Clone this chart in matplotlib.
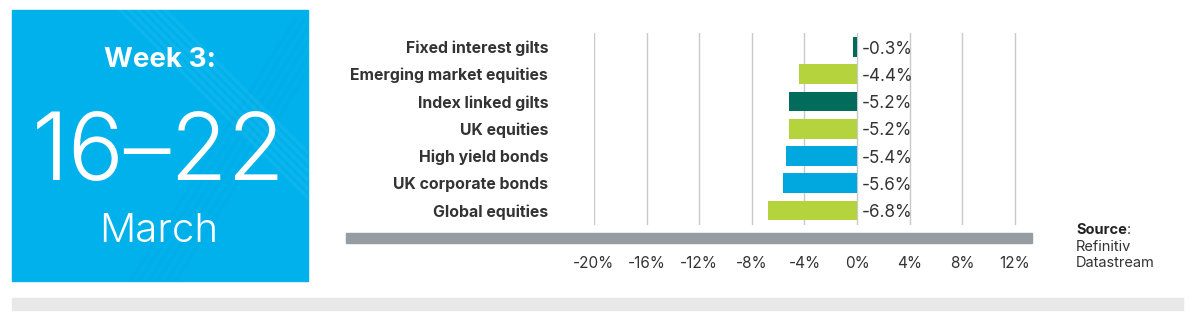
import matplotlib
matplotlib.use("Agg")
import matplotlib.pyplot as plt
from matplotlib.patches import Rectangle
import numpy as np

plt.rcParams["font.family"] = ["Inter", "DejaVu Sans"]

# weekly returns by asset class, %
categories = ["Fixed interest gilts", "Emerging market equities", "Index linked gilts",
              "UK equities", "High yield bonds", "UK corporate bonds", "Global equities"]
returns = [-0.3, -4.4, -5.2, -5.2, -5.4, -5.6, -6.8]
asset_group = ["gilts", "equities", "gilts", "equities", "bonds", "bonds", "equities"]
x_ticks = [-20, -16, -12, -8, -4, 0, 4, 8, 12]

GROUP_COLORS = {"gilts": "#016b5c", "equities": "#b5d33d", "bonds": "#00a8df"}
BOX_BLUE = "#00b1eb"
TEXT = "#333333"

W, H = 1190, 325
fig = plt.figure(figsize=(W / 100, H / 100), dpi=100)

# page furniture in pixel coordinates
bg = fig.add_axes([0, 0, 1, 1])
bg.set_xlim(0, W)
bg.set_ylim(H, 0)
bg.axis("off")

box = Rectangle((12, 10), 296, 271, color=BOX_BLUE, zorder=1)
bg.add_patch(box)
# faint crossed stripes behind the date
for off in np.arange(0, 48, 9):
    ln, = bg.plot([120 + off, 340 + off], [10, 230], color="white", lw=2.5, alpha=0.06, zorder=2)
    ln.set_clip_path(box)
    ln, = bg.plot([340 - off, 170 - off], [20, 290], color="#0094cc", lw=2.5, alpha=0.09, zorder=2)
    ln.set_clip_path(box)

bg.text(160, 67, "Week 3:", color="white", fontsize=20, fontweight="bold",
        ha="center", va="baseline", zorder=3)
bg.text(159, 180, "16–22", color="white", fontsize=67, fontweight=300,
        ha="center", va="baseline", zorder=3)
bg.text(159, 242, "March", color="white", fontsize=29, fontweight=300,
        ha="center", va="baseline", zorder=3)

bg.add_patch(Rectangle((346, 233), 686, 10, color="#969da2", zorder=1))
bg.add_patch(Rectangle((12, 298), 1171, 12, color="#e8e8e8", zorder=1))

src = bg.text(1076, 230, "Source", color="#222222", fontsize=10.5, fontweight="bold", va="center")
bg.annotate(":", xy=(1, 0.5), xycoords=src, color=TEXT, fontsize=10.5, va="center")
bg.text(1076, 247, "Refinitiv", color=TEXT, fontsize=10.5, va="center")
bg.text(1076, 263, "Datastream", color=TEXT, fontsize=10.5, va="center")

# bar chart
ax = fig.add_axes([594 / W, 1 - 225 / H, (1032 - 594) / W, (225 - 33) / H])
ax.patch.set_visible(False)
pos = np.arange(len(categories))
colors = [GROUP_COLORS[g] for g in asset_group]
ax.barh(pos, returns, height=0.72, color=colors, zorder=3)
for y, v in zip(pos, returns):
    ax.text(0.35, y + 0.08, f"{v:.1f}%", color=TEXT, fontsize=12.3, va="center", ha="left", zorder=4)

ax.set_xlim(-20, 13.3)
ax.set_ylim(6.53, -0.51)
ax.set_xticks(x_ticks)
ax.set_xticklabels([f"{t}%" for t in x_ticks], fontsize=11, color=TEXT)
ax.set_yticks(pos)
ax.set_yticklabels(categories, fontsize=11.4, fontweight="bold", color=TEXT)
ax.tick_params(axis="x", length=0, pad=22)
ax.tick_params(axis="y", length=0, pad=33)
ax.grid(axis="x", color="#c9c9c9", lw=1, zorder=0)
for s in ax.spines.values():
    s.set_visible(False)

fig.savefig("out.png", dpi=100, facecolor="white")
